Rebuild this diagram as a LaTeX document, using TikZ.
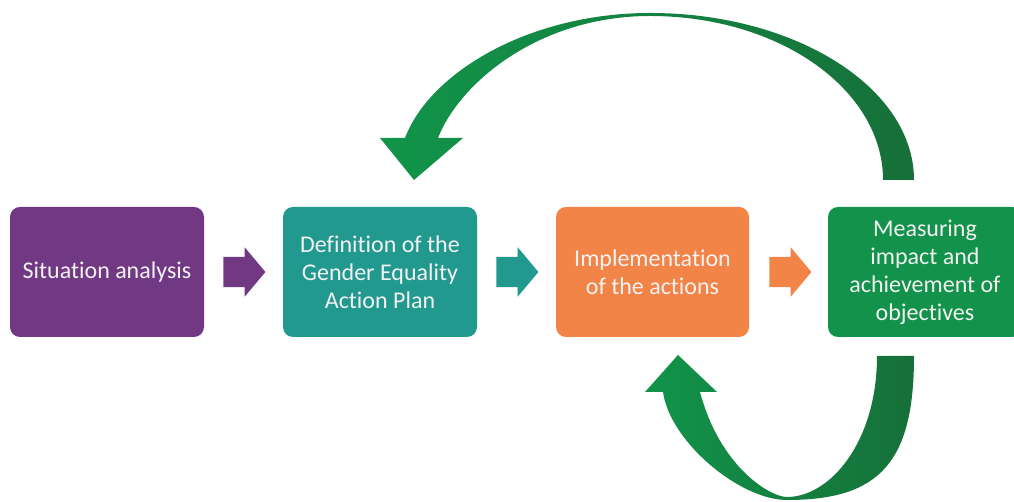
\documentclass[tikz,border=0pt]{standalone}
\usepackage{fontspec}
\setmainfont{Carlito}[Ligatures=NoCommon]
\usetikzlibrary{calc}
\usetikzlibrary{shapes.arrows}

\definecolor{sitpurple}{HTML}{713884}
\definecolor{defteal}{HTML}{22998E}
\definecolor{implorange}{HTML}{F38447}
\definecolor{measgreen}{HTML}{12924A}
\definecolor{loopbright}{HTML}{11944A}
\definecolor{loopdark}{HTML}{167038}
\definecolor{stagetext}{HTML}{F2F2F2}

\begin{document}
\begin{tikzpicture}[x=1pt,y=1pt,
    stage/.style={rounded corners=10pt, minimum width=194pt, minimum height=130pt, inner sep=0pt,
        align=center, text=stagetext, font=\fontsize{24}{28}\selectfont},
    blockarrow/.style={single arrow, anchor=tail, minimum height=42pt, minimum width=49pt, inner xsep=0pt, inner ysep=15pt,
        single arrow head extend=9.5pt, single arrow tip angle=100}]
                \useasboundingbox (0,0) rectangle (1014,502);

                \node[stage, fill=sitpurple] (sitan) at (107,230) {Situation analysis};
                \node[stage, fill=defteal] (defplan) at (380,230) {Definition of the\\Gender Equality\\Action Plan};
                \node[stage, fill=implorange, minimum width=193pt] (implact) at (652.5,230) {Implementation\\of the actions};
                \node[stage, fill=measgreen] (measobj) at (925,230) {Measuring\\impact and\\achievement of\\objectives};

                \node[blockarrow, fill=sitpurple] (sitdef) at ($(sitan.east)+(19,0)$) {};
                \node[blockarrow, fill=defteal] (defimpl) at ($(defplan.east)+(19,0)$) {};
                \node[blockarrow, fill=implorange] (implmeas) at ($(implact.east)+(20,0)$) {};

                % feedback from measuring back to the plan
                \shade[left color=loopbright, right color=loopdark]
                    (883,322) -- (914,322) .. controls (914,414) and (796,489) .. (650,489)
                    .. controls (530,489) and (430,430) .. (405,364)
                    -- (380,364) -- (414,322) -- (463,364) -- (438,364)
                    .. controls (460,420) and (540,486) .. (650,486)
                    .. controls (780,486) and (883,412) .. (883,322) -- cycle;

                % feedback from measuring back to the actions
                \shade[left color=loopbright, right color=loopdark]
                    (877,146) -- (914,146) .. controls (914,40) and (880,2) .. (787,2)
                    .. controls (740,2) and (670,60) .. (663,110)
                    -- (645,110) -- (678,147) -- (717,110) -- (700,110)
                    .. controls (720,35) and (770,5) .. (787,5)
                    .. controls (830,5) and (877,60) .. (877,146) -- cycle;
            \end{tikzpicture}
\end{document}
